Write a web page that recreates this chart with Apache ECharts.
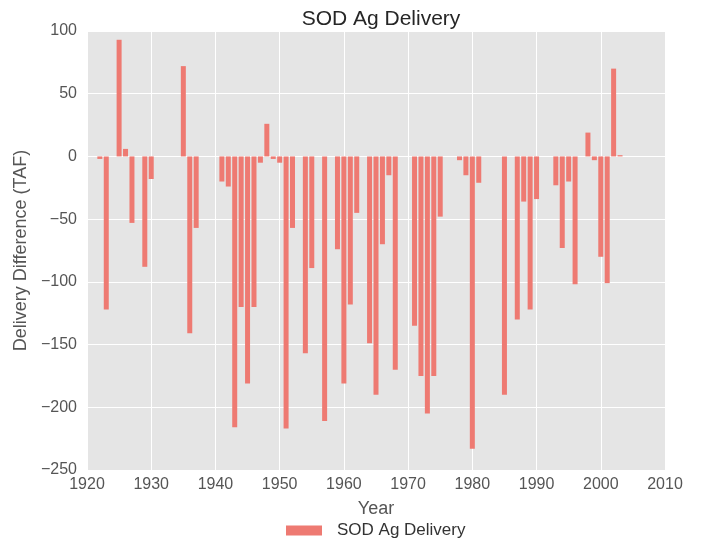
<!DOCTYPE html>
<html>
<head>
<meta charset="utf-8">
<script src="https://cdn.jsdelivr.net/npm/echarts@6/dist/echarts.min.js"></script>
<style>
html,body{margin:0;padding:0;background:#fff;}
#chart{width:701px;height:546px;}
</style>
</head>
<body>
<div id="chart"></div>
<script>
const years = [];
for (let y = 1922; y <= 2003; y++) years.push(y);
const values = [
  -2, -122, 0, 93, 6, -53, 0, -88, -18,            // 1922-1930
  0, 0, 0, 0, 72, -141, -57, 0, 0, 0,             // 1931-1940
  -20, -24, -216, -120, -181, -120, -5, 26, -2, -5, // 1941-1950
  -217, -57, 0, -157, -89, 0, -211, 0, -74, -181,  // 1951-1960
  -118, -45, 0, -149, -190, -70, -15, -170, 0, 0,  // 1961-1970
  -135, -175, -205, -175, -48, 0, 0, -3, -15, -233, // 1971-1980
  -21, 0, 0, 0, -190, 0, -130, -36, -122, -34,     // 1981-1990
  0, 0, -23, -73, -20, -102, 0, 19, -3, -80,       // 1991-2000
  -101, 70, 1                                      // 2001-2003
];
const seriesName = 'SOD Ag Delivery';
const titleText = 'SOD Ag Delivery';
const xName = 'Year';
const yName = 'Delivery Difference (TAF)';

const font = 'Liberation Sans, Arial, sans-serif';
const chart = echarts.init(document.getElementById('chart'), null, {renderer: 'canvas'});
chart.setOption({
  backgroundColor: '#ffffff',
  animation: false,
  title: {
    text: titleText,
    left: 376, top: 4, textAlign: 'center',
    textStyle: {fontFamily: font, fontSize: 21, fontWeight: 'normal', color: '#262626'}
  },
  legend: {
    data: [seriesName],
    left: 281, bottom: 2,
    icon: 'rect',
    itemWidth: 36, itemHeight: 10,
    textStyle: {fontFamily: font, fontSize: 17, color: '#333', padding: [0, 0, 0, 10]}
  },
  grid: {
    left: 87, right: 36, top: 31, bottom: 76,
    show: true, backgroundColor: '#E5E5E5', borderWidth: 0
  },
  xAxis: {
    type: 'value', min: 1920, max: 2010, interval: 10,
    name: xName, nameLocation: 'middle', nameGap: 30,
    nameTextStyle: {fontFamily: font, fontSize: 18, color: '#555'},
    axisLine: {show: false}, axisTick: {show: false},
    axisLabel: {fontFamily: font, fontSize: 16, color: '#555', margin: 7,
      formatter: v => String(v)},
    splitLine: {show: true, lineStyle: {color: '#ffffff', width: 1}}
  },
  yAxis: {
    type: 'value', min: -250, max: 100, interval: 50,
    name: yName, nameLocation: 'middle', nameGap: 56,
    nameTextStyle: {fontFamily: font, fontSize: 18, color: '#555'},
    axisLine: {show: false}, axisTick: {show: false},
    axisLabel: {fontFamily: font, fontSize: 16, color: '#555', margin: 10,
      formatter: v => String(v).replace('-', '\u2212')},
    splitLine: {show: true, lineStyle: {color: '#ffffff', width: 1}}
  },
  series: [{
    name: seriesName,
    type: 'bar',
    barWidth: 5,
    data: years.map((y, i) => [y, values[i]]),
    itemStyle: {color: '#EE7A72'}
  }]
});
</script>
</body>
</html>
